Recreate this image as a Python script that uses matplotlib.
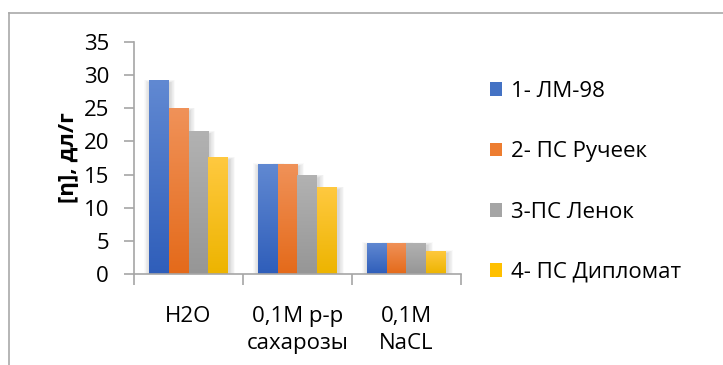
import matplotlib
matplotlib.use("Agg")
import matplotlib.pyplot as plt
import numpy as np
from matplotlib.colors import LinearSegmentedColormap
from matplotlib.lines import Line2D
from matplotlib.patches import Rectangle

categories = ["H2O", "0,1M р-р\nсахарозы", "0,1M\nNaCL"]
series_names = ["1- ЛМ-98", "2- ПС Ручеек", "3-ПС Ленок", "4- ПС Дипломат"]
values_lm98 = [29.2, 16.6, 4.7]
values_rucheek = [25.0, 16.6, 4.7]
values_lenok = [21.5, 14.9, 4.7]
values_diplomat = [17.6, 13.1, 3.5]
yticks = [0, 5, 10, 15, 20, 25, 30, 35]
ylabel = "[η], дл/г"

series_values = [values_lm98, values_rucheek, values_lenok, values_diplomat]
base_colors = ["#4472C4", "#ED7D31", "#A5A5A5", "#FFC000"]
grad_top = ["#6189D2", "#F09259", "#B2B2B2", "#FFC940"]
grad_bot = ["#2F5EBA", "#E46A1A", "#969696", "#EDB400"]

plt.rcParams['font.family'] = ['Open Sans', 'Noto Sans', 'DejaVu Sans']
FS = 16

W, H = 723, 365
fig = plt.figure(figsize=(W / 100, H / 100), dpi=100)
ax = fig.add_axes([134 / W, 1 - 274 / H, 327 / W, 232 / H])

# chart frame (partially cut off)
fig.add_artist(Line2D([8.5 / W, 8.5 / W], [0, 1 - 12.5 / H], color="#A9A9A9", lw=1.2,
                      transform=fig.transFigure))
fig.add_artist(Line2D([8.5 / W, 1], [1 - 12.5 / H, 1 - 12.5 / H], color="#A9A9A9", lw=1.2,
                      transform=fig.transFigure))

x = np.arange(len(categories))
bw = 0.183
offsets = (np.arange(4) - 1.5) * bw

ax.set_xlim(-0.5, len(categories) - 0.5)
ax.set_ylim(0, 35)

# soft shadow behind bars
for i, vals in enumerate(series_values):
    for grow in np.linspace(0.004, 0.05, 8):
        for xi, v in zip(x + offsets[i], vals):
            ax.add_patch(Rectangle((xi - bw / 2 - grow + 0.01, 0), bw + 2 * grow,
                                   v + grow * 10 - 0.4, color="black", alpha=0.018,
                                   lw=0, zorder=1))
for i, vals in enumerate(series_values):
    bars = ax.bar(x + offsets[i], vals, width=bw, color=base_colors[i], zorder=2,
                  label=series_names[i], linewidth=0)
    cmap = LinearSegmentedColormap.from_list(f"g{i}", [grad_bot[i], grad_top[i]])
    grad = np.linspace(0, 1, 256).reshape(-1, 1)
    for b in bars:
        x0, y0 = b.get_x(), b.get_y()
        w, h = b.get_width(), b.get_height()
        im = ax.imshow(grad, cmap=cmap, origin="lower", aspect="auto",
                       extent=[x0, x0 + w, y0, y0 + h], zorder=3, interpolation="bilinear")
        im.set_clip_path(b)
ax.set_xlim(-0.5, len(categories) - 0.5)
ax.set_ylim(0, 35)

for s in ["top", "right"]:
    ax.spines[s].set_visible(False)
for s in ["left", "bottom"]:
    ax.spines[s].set_color("#A6A6A6")
    ax.spines[s].set_linewidth(1.2)
    ax.spines[s].set_zorder(4)

ax.set_yticks(yticks)
ax.set_yticklabels([str(t) for t in yticks], fontsize=FS)
ax.tick_params(axis="y", length=7, width=1.2, color="#A6A6A6", pad=11)
ax.set_xticks(x)
ax.set_xticklabels(categories, fontsize=FS, linespacing=1.35)
ax.tick_params(axis="x", which="major", length=0, pad=23)
ax.set_xticks(np.arange(-0.5, len(categories)), minor=True)
ax.tick_params(axis="x", which="minor", length=8, width=1.2, color="#A6A6A6", direction="out")

ax.set_ylabel(ylabel, fontsize=FS, fontweight="bold", labelpad=3)

leg = ax.legend(loc="upper left", bbox_to_anchor=(490 / W, 1 - 81 / H),
                bbox_transform=fig.transFigure, frameon=False, fontsize=FS,
                handlelength=0.55, handleheight=0.55, handletextpad=0.4,
                labelspacing=1.77, borderpad=0, borderaxespad=0)

fig.savefig("out.png", dpi=100)
